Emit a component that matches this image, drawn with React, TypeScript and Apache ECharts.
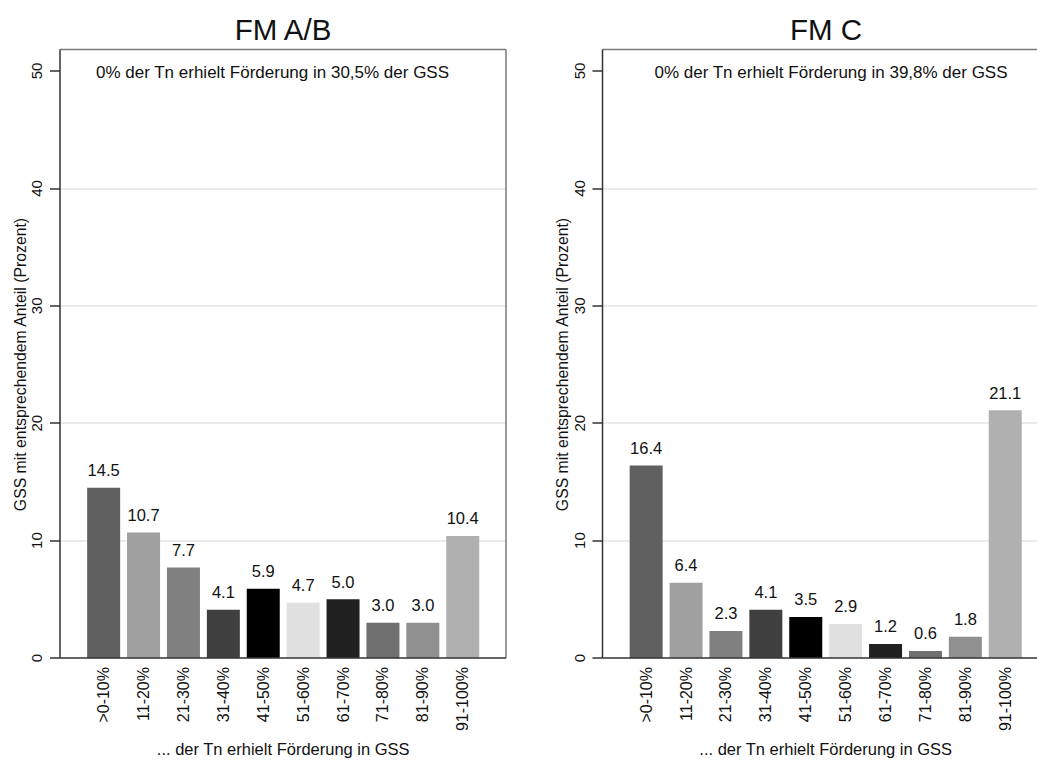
import React, { useEffect, useRef } from "react";
import * as echarts from "echarts";

const categories = [">0-10%", "11-20%", "21-30%", "31-40%", "41-50%", "51-60%", "61-70%", "71-80%", "81-90%", "91-100%"];
const valuesAB = [14.5, 10.7, 7.7, 4.1, 5.9, 4.7, 5.0, 3.0, 3.0, 10.4];
const valuesC = [16.4, 6.4, 2.3, 4.1, 3.5, 2.9, 1.2, 0.6, 1.8, 21.1];
const barColors = ["#606060", "#a0a0a0", "#808080", "#404040", "#000000", "#e0e0e0", "#202020", "#707070", "#909090", "#b0b0b0"];
const yTicks = [0, 10, 20, 30, 40, 50];
const panelTitles = ["FM A/B", "FM C"];
const notes = ["0% der Tn erhielt Förderung in 30,5% der GSS", "0% der Tn erhielt Förderung in 39,8% der GSS"];
const yTitle = "GSS mit entsprechendem Anteil (Prozent)";
const xTitle = "... der Tn erhielt Förderung in GSS";

const FONT = "Liberation Sans, Arial, Helvetica, sans-serif";
const TXT = "#111";

export default function App() {
  const ref = useRef<HTMLDivElement>(null);
  useEffect(() => {
    if (!ref.current) return;
    const chart = echarts.init(ref.current, null, { renderer: "svg" });

    const frameLeft = [60, 602.5];
    const frameRight = [506, 1048.5];
    const frameTop = 49.5;
    const plotTop = 71;
    const plotBottom = 658;
    const plotH = plotBottom - plotTop;
    const barLeftOffset = 23.7;
    const bandW = 39.9;
    const data = [valuesAB, valuesC];

    const grids: any[] = [];
    const xAxes: any[] = [];
    const yAxes: any[] = [];
    const series: any[] = [];
    const graphics: any[] = [];

    for (let p = 0; p < 2; p++) {
      const fl = frameLeft[p];
      const fw = frameRight[p] - fl;
      // frame grid
      grids.push({ left: fl, top: plotTop, width: fw, height: plotH, containLabel: false, outerBoundsMode: "none" });
      xAxes.push({ type: "value", gridIndex: 2 * p, min: 0, max: 1, show: false });
      yAxes.push({
        type: "value",
        gridIndex: 2 * p,
        min: 0,
        max: 50,
        interval: 10,
        axisLine: { show: false },
        axisTick: { show: true, length: 10, lineStyle: { color: "#333", width: 1.5 }, customValues: yTicks },
        axisLabel: { rotate: 90, margin: 16, fontSize: 15, color: TXT, fontFamily: FONT, customValues: yTicks },
        splitLine: { show: true, showMinLine: false, showMaxLine: false, lineStyle: { color: "#e4e4e4", width: 1.5 } },
        name: yTitle,
        nameLocation: "middle",
        nameGap: 32,
        nameRotate: 90,
        nameTextStyle: { fontSize: 15.8, color: TXT, fontFamily: FONT },
      });
      // bar grid
      const bl = fl + barLeftOffset;
      grids.push({ left: bl, top: plotTop, width: bandW * categories.length, height: plotH, containLabel: false, outerBoundsMode: "none" });
      xAxes.push({
        type: "category",
        gridIndex: 2 * p + 1,
        data: categories,
        axisLine: { show: false },
        axisTick: { show: false },
        axisLabel: { rotate: 90, margin: 9, fontSize: 16, color: TXT, fontFamily: FONT, interval: 0 },
        name: xTitle,
        nameLocation: "middle",
        nameGap: 82,
        nameTextStyle: { fontSize: 16.5, color: TXT, fontFamily: FONT },
      });
      yAxes.push({ type: "value", gridIndex: 2 * p + 1, min: 0, max: 50, show: false, splitLine: { show: false } });
      series.push({
        type: "bar",
        xAxisIndex: 2 * p + 1,
        yAxisIndex: 2 * p + 1,
        data: data[p],
        barWidth: 33,
        itemStyle: { color: (prm: any) => barColors[prm.dataIndex] },
        label: {
          show: true,
          position: "top",
          distance: 9,
          fontSize: 16.5,
          color: TXT,
          fontFamily: FONT,
          formatter: (prm: any) => Number(prm.value).toFixed(1),
        },
      });

      // frame lines
      const fr = Math.min(frameRight[p], 1040);
      graphics.push({ type: "line", shape: { x1: fl, y1: frameTop, x2: fr, y2: frameTop }, style: { stroke: "#7a7a7a", lineWidth: 1.5 }, z: 10 });
      if (frameRight[p] < 1037) {
        graphics.push({ type: "line", shape: { x1: fr, y1: frameTop, x2: fr, y2: plotBottom }, style: { stroke: "#7a7a7a", lineWidth: 1.5 }, z: 10 });
      }
      graphics.push({ type: "line", shape: { x1: fl, y1: frameTop, x2: fl, y2: plotBottom }, style: { stroke: "#333", lineWidth: 1.5 }, z: 10 });
      graphics.push({ type: "line", shape: { x1: fl, y1: plotBottom, x2: fr, y2: plotBottom }, style: { stroke: "#333", lineWidth: 1.5 }, z: 10 });
    }

    const titleX = [283, 826];
    const noteX = [272.5, 831];
    for (let p = 0; p < 2; p++) {
      graphics.push({
        type: "text",
        x: titleX[p],
        y: 29,
        style: { text: panelTitles[p], fontSize: 29.5, fill: TXT, fontFamily: FONT, textAlign: "center", textVerticalAlign: "middle" },
        z: 10,
      });
      graphics.push({
        type: "text",
        x: noteX[p],
        y: 72,
        style: { text: notes[p], fontSize: 17, fill: TXT, fontFamily: FONT, textAlign: "center", textVerticalAlign: "middle" },
        z: 10,
      });
    }

    chart.setOption({
      animation: false,
      backgroundColor: "#fff",
      textStyle: { fontFamily: FONT },
      grid: grids,
      xAxis: xAxes,
      yAxis: yAxes,
      series,
      graphic: { elements: graphics },
    });
    return () => chart.dispose();
  }, []);
  return <div ref={ref} style={{ position: "absolute", left: 0, top: 0, width: 1037, height: 760 }} />;
}
